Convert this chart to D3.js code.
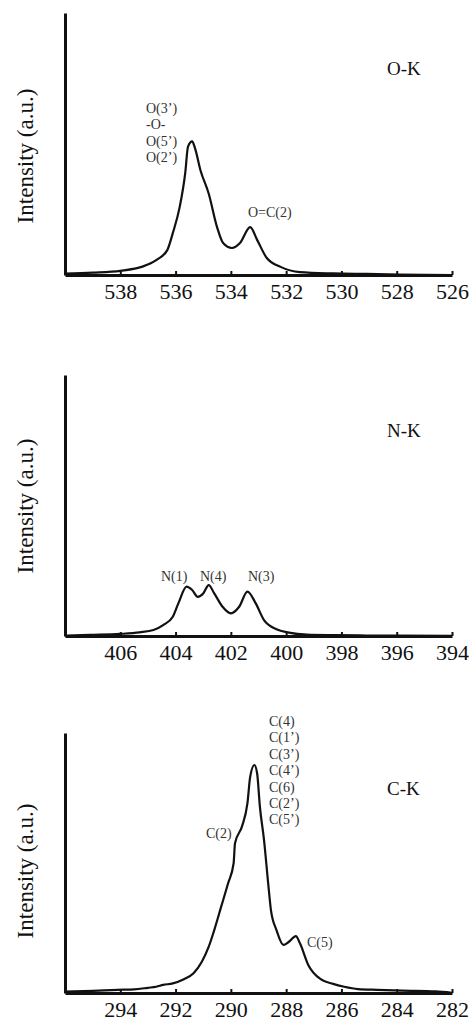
<!DOCTYPE html>
<html>
<head>
<meta charset="utf-8">
<script src="https://cdn.jsdelivr.net/npm/d3@7"></script>
<style>
html,body{margin:0;padding:0;background:#fff;}
svg{display:block;}
text{font-family:"Liberation Serif","Times New Roman",Times,serif;}
</style>
</head>
<body>
<svg id="chart" width="469" height="1021"></svg>
<script>
// ---- data ----
const okEnergy = [540,539,538,537.2,536.7,536.3,536.1,535.85,535.65,535.55,535.4,535.3,535.1,534.8,534.5,534.28,533.96,533.67,533.3,533.05,532.7,532.2,531.5,530.3,529.1,527.9,526];
const okIntensity = [0.5,0.9,1.6,3.2,5.7,9.5,16,26,39,49,51,48.5,40,31,18.3,12.2,10.3,12.2,18.3,13.4,6.5,3.1,1.1,0.6,0.4,0.2,0];
const okTicks = [538,536,534,532,530,528,526];

const nkEnergy = [408,407.1,406,405.3,404.8,404.45,404.1,403.9,403.6,403.4,403.2,403.0,402.8,402.6,402.3,402.0,401.7,401.4,401.1,400.8,400.35,399.9,399.25,398.3,397.1,394];
const nkIntensity = [0.1,0.4,0.8,1.4,2.3,4.2,7.4,12.5,18.9,17.6,15,16.3,19.5,16.3,11.2,8.7,11.2,17,12.5,6.1,2.6,1.3,0.5,0.3,0.2,0.1];
const nkTicks = [406,404,402,400,398,396,394];

const ckEnergy = [296,295,294.1,293.5,293.0,292.7,292.45,292.1,291.7,291.35,291.05,290.8,290.6,290.35,290.1,289.9,289.85,289.6,289.4,289.3,289.15,289.05,288.95,288.8,288.65,288.55,288.35,288.1,287.9,287.65,287.5,287.2,286.75,286.3,285.9,285.4,284.7,283.8,282.6,282];
const ckIntensity = [0.5,0.8,1.2,1.4,2.0,2.4,3.1,3.7,5.3,7.6,12,17.8,24.2,33.2,42.2,49.9,57.6,64,73,83.2,87.7,84.5,71.7,58.8,42.2,31.9,24.2,18.5,19.7,21.9,19.1,10.8,5.3,3.5,2.4,1.5,1.2,0.9,0.6,0.1];
const ckTicks = [294,292,290,288,286,284,282];

const panels = [
  {name:"O-K", energy:okEnergy, intensity:okIntensity, ticks:okTicks, domain:[540,526], top:13, base:275, labelY:156,
   peaks:[{lines:["O(3\u2019)","-O-","O(5\u2019)","O(2\u2019)"], x:146, y:113},{lines:["O=C(2)"], x:248, y:217}]},
  {name:"N-K", energy:nkEnergy, intensity:nkIntensity, ticks:nkTicks, domain:[408,394], top:375, base:636, labelY:506,
   peaks:[{lines:["N(1)"],x:161,y:581},{lines:["N(4)"],x:200,y:581},{lines:["N(3)"],x:248,y:581}]},
  {name:"C-K", energy:ckEnergy, intensity:ckIntensity, ticks:ckTicks, domain:[296,282], top:733, base:993, labelY:871,
   peaks:[{lines:["C(4)","C(1\u2019)","C(3\u2019)","C(4\u2019)","C(6)","C(2\u2019)","C(5\u2019)"],x:269,y:726},{lines:["C(2)"],x:206,y:838},{lines:["C(5)"],x:307,y:947}]}
];

const svg = d3.select("#chart");
const left = 65, right = 452;

panels.forEach(p => {
  const g = svg.append("g");
  const x = d3.scaleLinear().domain(p.domain).range([left, right]);
  const y = d3.scaleLinear().domain([0,100]).range([p.base, p.top]);

  // curve
  const line = d3.line().x((d,i)=>x(p.energy[i])).y(d=>y(d)).curve(d3.curveMonotoneX);
  g.append("path").datum(p.intensity).attr("d", line)
    .attr("fill","none").attr("stroke","#111").attr("stroke-width",2.2).attr("stroke-linejoin","round");

  // y axis
  const ya = g.append("g").attr("transform",`translate(${left},0)`)
    .call(d3.axisLeft(y).ticks(0).tickSizeOuter(0));
  ya.select(".domain").attr("stroke","#111").attr("stroke-width",3);

  // x axis
  const xa = g.append("g").attr("transform",`translate(0,${p.base})`)
    .call(d3.axisBottom(x).tickValues(p.ticks).tickSizeInner(-4).tickSizeOuter(0).tickPadding(8).tickFormat(d3.format("d")));
  xa.select(".domain").attr("stroke","#111").attr("stroke-width",3);
  xa.selectAll(".tick line").attr("stroke","#111").attr("stroke-width",2);
  xa.selectAll(".tick text").attr("font-family","Liberation Serif").attr("font-size",22).attr("fill","#111");

  // y label
  g.append("text").attr("transform",`translate(33,${p.labelY}) rotate(-90)`)
    .attr("text-anchor","middle").attr("font-size",23).attr("fill","#111").text("Intensity (a.u.)");

  // panel name
  g.append("text").attr("x",387).attr("y",p.top+62).attr("font-size",19).attr("fill","#111").text(p.name);

  // peak labels
  p.peaks.forEach(pk => {
    pk.lines.forEach((t,i)=>{
      g.append("text").attr("x",pk.x).attr("y",pk.y+i*16.4).attr("font-size",14).attr("fill","#333").text(t);
    });
  });
});
</script>
</body>
</html>
